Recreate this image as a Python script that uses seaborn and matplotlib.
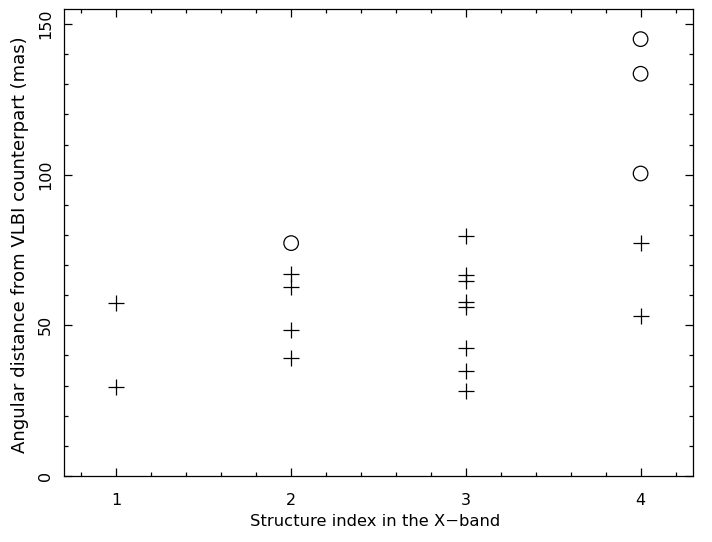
import matplotlib
matplotlib.use("Agg")
import matplotlib.pyplot as plt
import seaborn as sns
import pandas as pd
from matplotlib.ticker import MultipleLocator

# Data
plus_x = [1, 1, 2, 2, 2, 2, 3, 3, 3, 3, 3, 3, 3, 3, 4, 4]
plus_y = [57.4, 29.5, 67.1, 62.7, 48.6, 39.3, 79.8, 66.6, 64.6, 57.9, 56.1, 42.6, 34.8, 28.1, 77.4, 53.0]
circ_x = [2, 4, 4, 4]
circ_y = [77.3, 145.0, 133.5, 100.4]

x_label = "Structure index in the X\u2212band"
y_label = "Angular distance from VLBI counterpart (mas)"

sns.set_style("ticks")
plt.rcParams['font.family'] = ['DejaVu Sans']
plt.rcParams['text.color'] = 'black'

W, H = 712, 542
fig = plt.figure(figsize=(W / 100, H / 100), dpi=100)
ax = fig.add_axes([64 / W, 1 - 476 / H, (693 - 64) / W, (476 - 9) / H])

df_p = pd.DataFrame({"x": plus_x, "y": plus_y})
df_c = pd.DataFrame({"x": circ_x, "y": circ_y})
sns.scatterplot(data=df_p, x="x", y="y", marker="+", s=120, color="black",
                linewidth=0.9, ax=ax)
sns.scatterplot(data=df_c, x="x", y="y", marker="o", s=110, facecolors="none",
                edgecolor="black", linewidth=0.9, ax=ax)

ax.set_xlim(0.7, 4.3)
ax.set_ylim(0, 155)
ax.xaxis.set_major_locator(MultipleLocator(1))
ax.xaxis.set_minor_locator(MultipleLocator(0.2))
ax.yaxis.set_major_locator(MultipleLocator(50))
ax.yaxis.set_minor_locator(MultipleLocator(10))
ax.tick_params(which="both", direction="in", top=True, right=True, colors="black",
               width=0.9, labelsize=11.5)
ax.tick_params(which="major", length=6)
ax.tick_params(axis="x", which="major", pad=12)
ax.tick_params(axis="y", which="major", pad=8)
ax.tick_params(which="minor", length=3)
for lab in ax.get_yticklabels():
    lab.set_rotation(90)
    lab.set_va("center")
for sp in ax.spines.values():
    sp.set_color("black")
    sp.set_linewidth(0.9)

ax.set_xlabel("")
ax.set_ylabel("")
xl = fig.text(375 / W, 1 - 522 / H, x_label, ha="center", va="center", fontsize=11,
              color="black")
yl = fig.text(20 / W, 1 - 245 / H, y_label, ha="center", va="center", fontsize=11,
              rotation=90, color="black")

# fit label sizes to the reference extents
fig.canvas.draw()
r = fig.canvas.get_renderer()
bx = xl.get_window_extent(r)
xl.set_fontsize(11 * 250 / bx.width)
by = yl.get_window_extent(r)
yl.set_fontsize(11 * 420 / by.height)

fig.savefig("out.png", dpi=100)
